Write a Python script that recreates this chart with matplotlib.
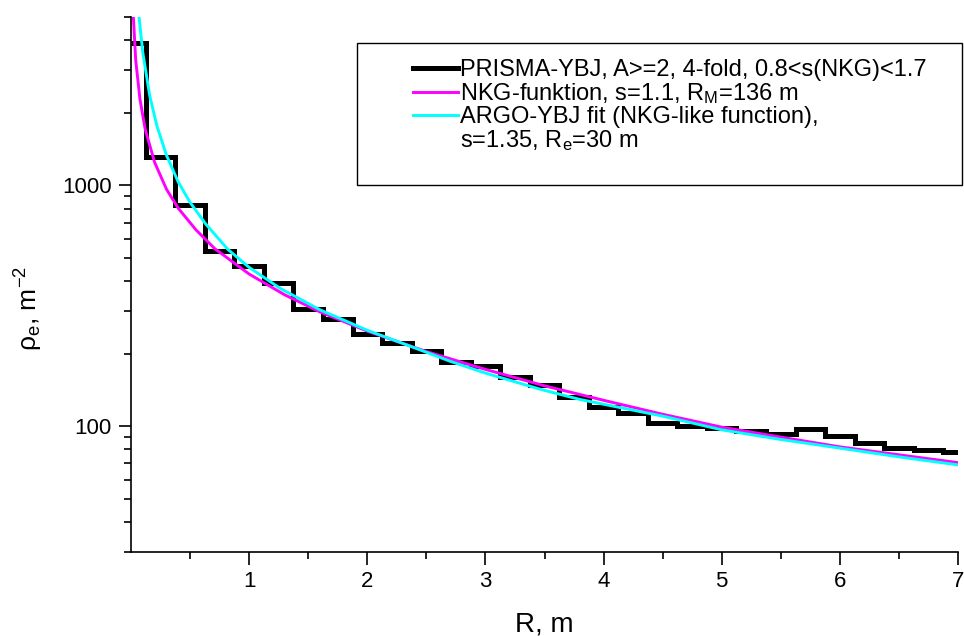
import numpy as np
import matplotlib
matplotlib.use("Agg")
import matplotlib.pyplot as plt
from matplotlib.lines import Line2D
from matplotlib.patches import Rectangle
from matplotlib.ticker import LogLocator, NullFormatter, FixedLocator, FixedFormatter

plt.rcParams['font.family'] = ['Liberation Sans', 'DejaVu Sans']
plt.rcParams['mathtext.fontset'] = 'custom'
plt.rcParams['mathtext.rm'] = 'Liberation Sans'
plt.rcParams['mathtext.it'] = 'Liberation Sans:italic'

# ---- data ----
bin_edges = [0.0, 0.125, 0.375, 0.625, 0.875, 1.125, 1.375, 1.625, 1.875, 2.125,
             2.375, 2.625, 2.875, 3.125, 3.375, 3.625, 3.875, 4.125, 4.375, 4.625,
             4.875, 5.125, 5.375, 5.625, 5.875, 6.125, 6.375, 6.625, 6.875, 7.0]
prisma_rho = [3900, 1307, 826, 532, 461, 392, 306, 278, 241, 221,
              206, 185, 177, 160, 148, 132, 120, 113, 103, 100.5,
              98, 95.6, 93, 97, 91, 84.7, 81.3, 79.8, 78]

nkg_r = [0.02, 0.04, 0.076, 0.12, 0.2, 0.3, 0.4, 0.55, 0.71, 1.0, 1.3, 1.6, 2.0,
         2.5, 3.0, 3.5, 4.0, 4.5, 5.0, 5.5, 6.0, 6.5, 7.0]
nkg_rho = [5000, 3300, 2275, 1710, 1245, 964, 803, 653, 545, 428, 351, 298, 248,
           204, 172, 147, 128, 112, 99, 90, 82, 76, 70.5]

argo_r = [0.068, 0.1, 0.16, 0.22, 0.3, 0.4, 0.5, 0.63, 0.82, 1.0, 1.26, 1.6, 2.0,
          2.36, 2.7, 3.0, 3.47, 3.8, 4.5, 5.0, 5.5, 6.0, 6.5, 7.0]
argo_rho = [5000, 3550, 2335, 1760, 1334, 1032, 849, 693, 542, 456, 374, 304, 250,
            215, 186, 166, 142, 129, 110, 96.5, 88, 81, 74.5, 69]

x_ticks = [1, 2, 3, 4, 5, 6, 7]
x_ticklabels = ['1', '2', '3', '4', '5', '6', '7']
labels = ['PRISMA-YBJ, A>=2, 4-fold, 0.8<s(NKG)<1.7',
          'NKG-funktion, s=1.1, R$_\\mathrm{M}$=136 m',
          'ARGO-YBJ fit (NKG-like function),',
          's=1.35, R$_\\mathrm{e}$=30 m']

# ---- figure ----
W, H = 964, 636
fig = plt.figure(figsize=(W / 100, H / 100), dpi=100)
ax = fig.add_axes([131 / W, 1 - 552 / H, 827 / W, 535 / H])

ax.stairs(prisma_rho, bin_edges, color='black', lw=3.6, baseline=None, zorder=2)
ax.plot(nkg_r, nkg_rho, color='#ff00ff', lw=2.1, zorder=3)
ax.plot(argo_r, argo_rho, color='#00ffff', lw=2.1, zorder=4)

ax.set_yscale('log')
ax.set_xlim(0, 7)
ax.set_ylim(30, 5000)

ax.xaxis.set_major_locator(FixedLocator(x_ticks))
ax.xaxis.set_major_formatter(FixedFormatter(x_ticklabels))
ax.xaxis.set_minor_locator(FixedLocator([0.5, 1.5, 2.5, 3.5, 4.5, 5.5, 6.5]))
ax.yaxis.set_major_locator(FixedLocator([100, 1000]))
ax.yaxis.set_major_formatter(FixedFormatter(['100', '1000']))
ax.yaxis.set_minor_locator(LogLocator(base=10, subs=np.arange(2, 10), numticks=20))
ax.yaxis.set_minor_formatter(NullFormatter())

for s in ['top', 'right']:
    ax.spines[s].set_visible(False)
for s in ['left', 'bottom']:
    ax.spines[s].set_linewidth(1.2)
ax.tick_params(which='major', direction='out', length=9, width=1.2, labelsize=16, pad=5)
ax.tick_params(which='minor', direction='out', length=5, width=1.2)

ax.set_xlabel('R, m', fontsize=20, labelpad=14)
ax.set_ylabel('ρ$_\\mathrm{e}$, m$^\\mathrm{-2}$', fontsize=19)
ax.yaxis.set_label_coords(-0.104, 0.456)

# legend box
fig.patches.append(Rectangle((357 / W, 1 - 185 / H), 605 / W, 142 / H,
                             transform=fig.transFigure, fill=False,
                             edgecolor='black', lw=1.0, zorder=5))
handles = [Line2D([], [], color='black', lw=3.6),
           Line2D([], [], color='#ff00ff', lw=2.1),
           Line2D([], [], color='#00ffff', lw=2.1),
           Line2D([], [], color='none')]
fig.legend(handles, labels, loc='upper left', bbox_to_anchor=(413 / W, 1 - 59 / H),
           frameon=False, fontsize=17, handlelength=1.9, handletextpad=0.09,
           borderpad=0, borderaxespad=0, labelspacing=0.0)

fig.savefig('out.png', dpi=100)
